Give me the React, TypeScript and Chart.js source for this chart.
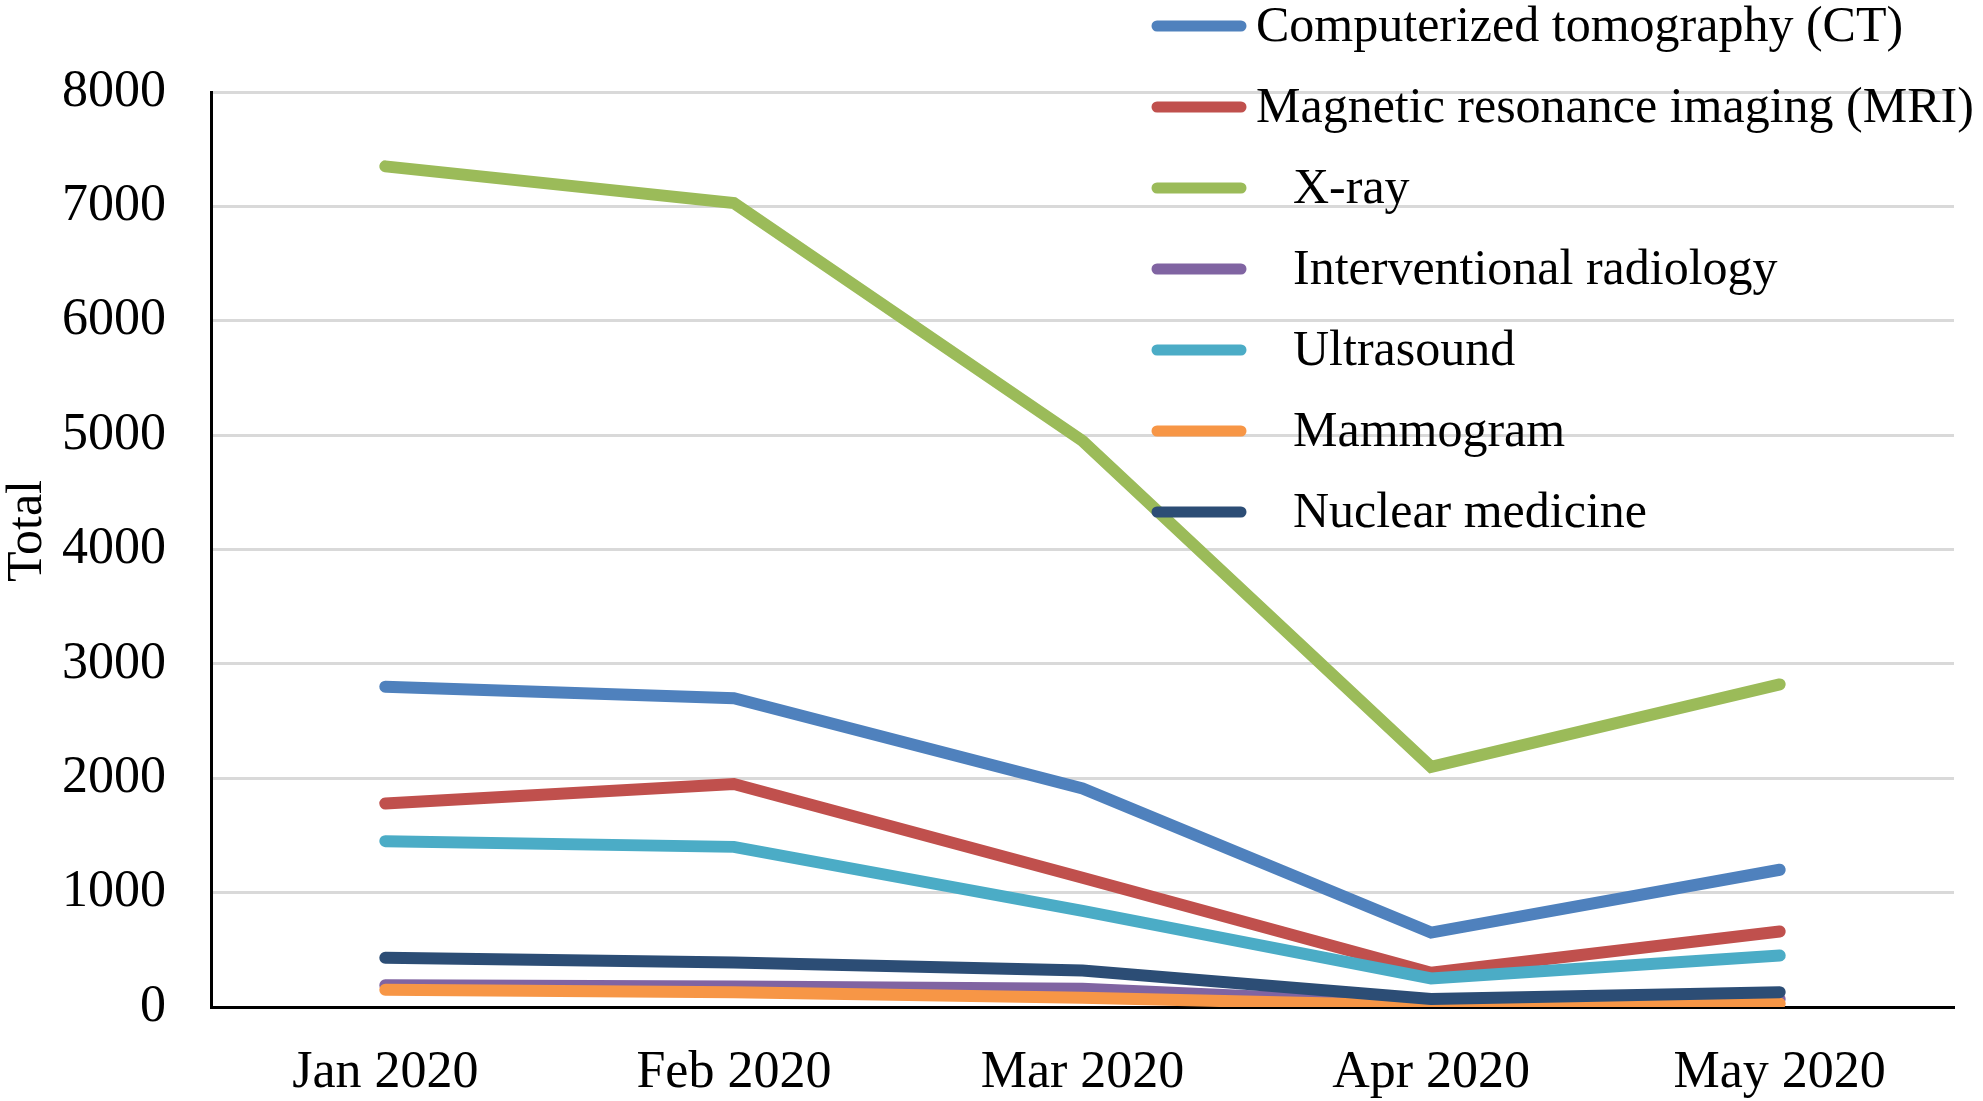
import React, { useEffect, useRef } from "react";
import { Chart, registerables } from "chart.js";

Chart.register(...registerables);

const months = ["Jan 2020", "Feb 2020", "Mar 2020", "Apr 2020", "May 2020"];
const seriesNames = [
  "Computerized tomography (CT)",
  "Magnetic resonance imaging (MRI)",
  "X-ray",
  "Interventional radiology",
  "Ultrasound",
  "Mammogram",
  "Nuclear medicine",
];
const ctValues = [2800, 2700, 1910, 650, 1200];
const mriValues = [1780, 1950, 1130, 300, 660];
const xrayValues = [7350, 7030, 4950, 2100, 2820];
const irValues = [190, 180, 160, 25, 70];
const usValues = [1450, 1400, 840, 250, 450];
const mammoValues = [150, 130, 80, 10, 30];
const nmValues = [430, 390, 320, 70, 130];
const seriesColors = ["#4F81BD", "#C0504D", "#9BBB59", "#8064A2", "#4BACC6", "#F79646", "#2C4D75"];
const legendIndent = [0, 0, 1, 1, 1, 1, 1];
const yTicks = [0, 1000, 2000, 3000, 4000, 5000, 6000, 7000, 8000];
const yTitle = "Total";

const FONT = "'Liberation Serif', 'Times New Roman', serif";

const legendPlugin = {
  id: "customLegend",
  afterDraw(chart: any) {
    const ctx = chart.ctx;
    ctx.save();
    ctx.font = `50px ${FONT}`;
    ctx.textBaseline = "middle";
    ctx.fillStyle = "#000";
    chart.data.datasets.forEach((ds: any, i: number) => {
      const y = 26 + i * 81;
      ctx.strokeStyle = ds.borderColor;
      ctx.lineWidth = 11;
      ctx.lineCap = "round";
      ctx.beginPath();
      ctx.moveTo(1157, y);
      ctx.lineTo(1241, y);
      ctx.stroke();
      ctx.fillText(ds.label, legendIndent[i] ? 1293 : 1256, y + 2);
    });
    // y-axis title
    ctx.translate(28, 531);
    ctx.rotate(-Math.PI / 2);
    ctx.textAlign = "center";
    ctx.fillText(yTitle, 0, 0);
    ctx.restore();
  },
};

export default function App() {
  const ref = useRef<HTMLCanvasElement | null>(null);
  useEffect(() => {
    if (!ref.current) return;
    const values = [ctValues, mriValues, xrayValues, irValues, usValues, mammoValues, nmValues];
    const chart = new Chart(ref.current, {
      type: "line",
      data: {
        labels: months,
        datasets: values.map((v, i) => ({
          label: seriesNames[i],
          data: v,
          borderColor: seriesColors[i],
          backgroundColor: seriesColors[i],
          borderWidth: 12,
          pointRadius: 0,
          tension: 0,
          borderCapStyle: "round" as const,
          borderJoinStyle: "miter" as const,
          order: values.length - i,
        })),
      },
      options: {
        animation: false,
        responsive: false,
        maintainAspectRatio: false,
        devicePixelRatio: 1,
        layout: { padding: { left: 0, right: 29, top: 92, bottom: 0 } },
        plugins: { legend: { display: false }, tooltip: { enabled: false } },
        scales: {
          x: {
            offset: true,
            grid: { display: false, drawTicks: false },
            border: { color: "#000", width: 3 },
            ticks: { color: "#000", font: { family: FONT, size: 52 }, padding: 35, maxRotation: 0 },
            afterFit(scale: any) {
              scale.height = 94;
            },
          },
          y: {
            min: 0,
            max: 8000,
            afterBuildTicks(scale: any) {
              scale.ticks = yTicks.map((v) => ({ value: v }));
            },
            grid: { color: "#D9D9D9", lineWidth: 3, drawTicks: false },
            border: { color: "#000", width: 3 },
            ticks: {
              color: "#000",
              font: { family: FONT, size: 52 },
              padding: 45,
              callback: (v: any) => String(v),
            },
            afterFit(scale: any) {
              scale.width = 211;
            },
          },
        },
      },
      plugins: [legendPlugin],
    });
    return () => chart.destroy();
  }, []);
  return (
    <div style={{ position: "fixed", left: 0, top: 0, width: 1983, height: 1101, background: "#fff" }}>
      <canvas ref={ref} width={1983} height={1101} style={{ width: 1983, height: 1101 }} />
    </div>
  );
}
